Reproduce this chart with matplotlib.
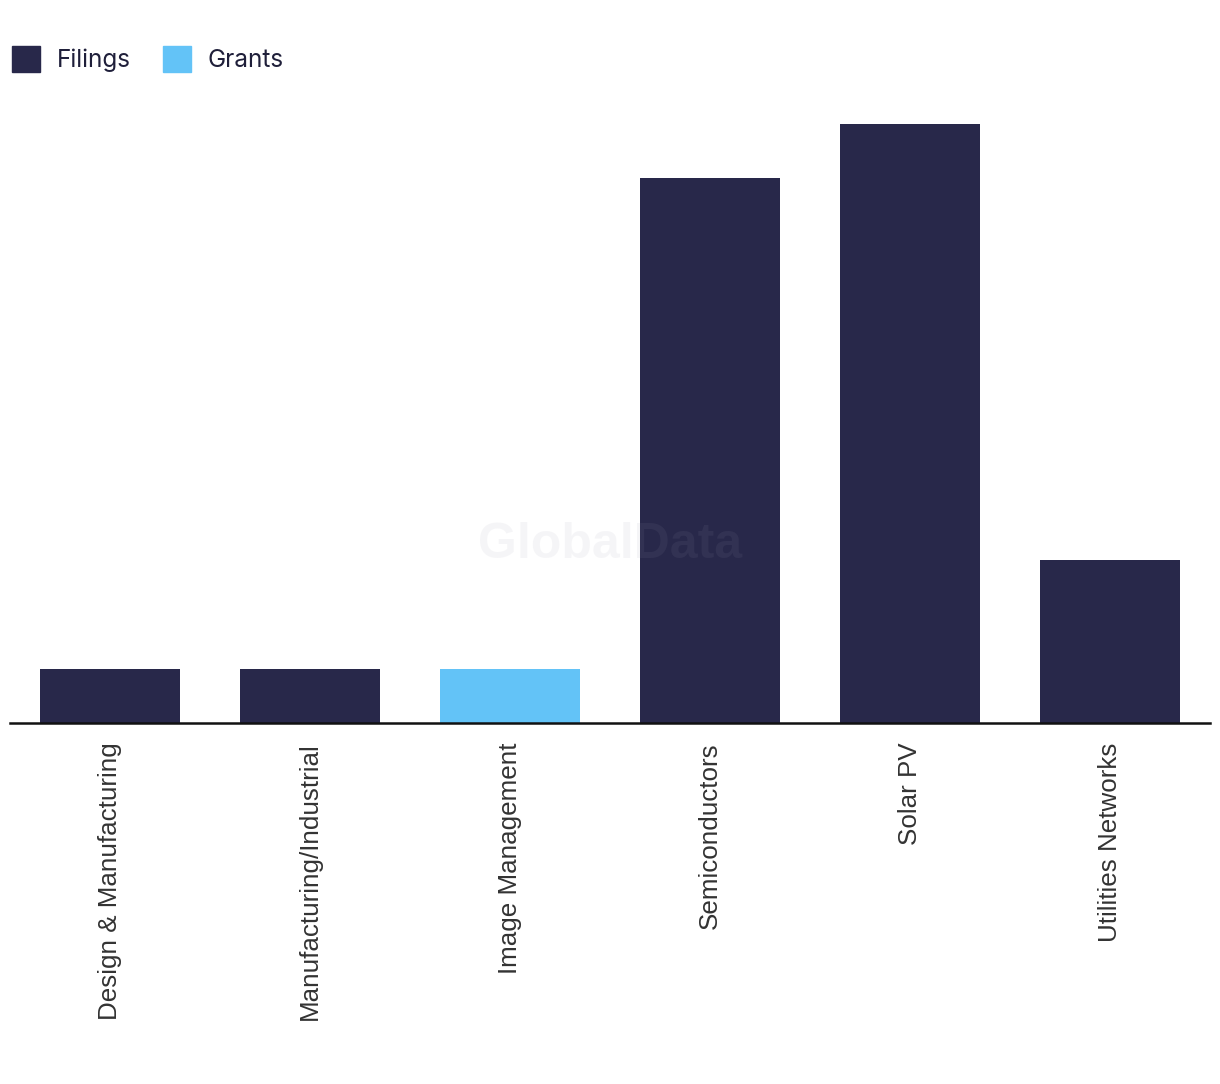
import matplotlib.pyplot as plt
from matplotlib.patches import Patch

categories = ['Design & Manufacturing', 'Manufacturing/Industrial', 'Image Management',
              'Semiconductors', 'Solar PV', 'Utilities Networks']
filings = [1, 1, 0, 10, 11, 3]
grants = [0, 0, 1, 0, 0, 0]

navy = '#28284a'
blue = '#63c3f7'

fig = plt.figure(figsize=(12.2, 10.84), dpi=100)
ax = fig.add_axes([10 / 1220, 1 - 723 / 1084, 1200 / 1220, (723 - 124) / 1084])

x = range(len(categories))
ax.bar(x, filings, width=0.7, color=navy, zorder=2)
ax.bar(x, grants, bottom=filings, width=0.7, color=blue, zorder=2)

ax.set_xlim(-0.5, len(categories) - 0.5)
ax.set_ylim(0, 11)
ax.set_xticks(list(x))
ax.set_xticklabels(categories, rotation=90, fontsize=18.7, color='#333333',
                   family='Liberation Sans')
ax.tick_params(axis='x', length=0, pad=14)
ax.set_yticks([])
for side in ['top', 'right', 'left']:
    ax.spines[side].set_visible(False)
ax.spines['bottom'].set_linewidth(1.8)
ax.spines['bottom'].set_color('#111111')
ax.spines['bottom'].set_zorder(3)

# watermark
ax.text(0.5, 0.297, 'GlobalData', transform=ax.transAxes, fontsize=36, fontweight='bold',
        color='#9a9aae', alpha=0.09, ha='center', va='center', family='Liberation Sans', zorder=5)

handles = [Patch(color=navy, label='Filings'), Patch(color=blue, label='Grants')]
fig.legend(handles=handles, loc='upper left', bbox_to_anchor=(0.0, 0.969), ncol=2,
           frameon=False, handlelength=1.15, handleheight=1.3, borderpad=0,
           borderaxespad=0.5, handletextpad=0.7, columnspacing=1.3, labelcolor='#1f1f3a',
           prop={'family': 'Inter', 'size': 17.5})

fig.savefig('out.png', dpi=100, facecolor='white')
